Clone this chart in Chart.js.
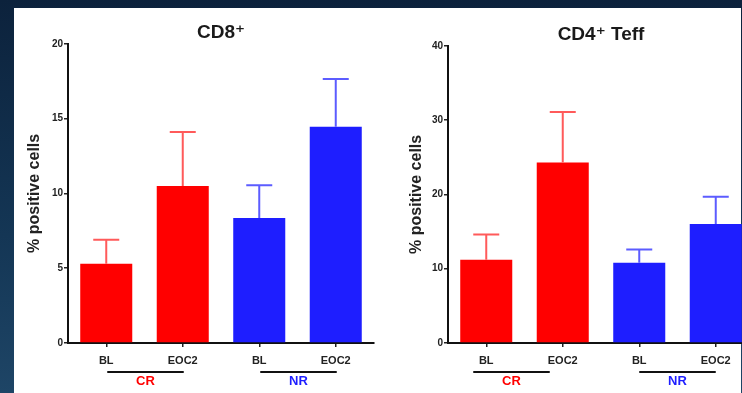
<!DOCTYPE html>
<html>
<head>
<meta charset="utf-8">
<script src="https://cdn.jsdelivr.net/npm/chart.js@4.4.1/dist/chart.umd.min.js"></script>
<style>
  html, body { margin: 0; padding: 0; }
  body {
    width: 742px; height: 393px; overflow: hidden; position: relative;
    background: linear-gradient(180deg, #0c223c 0%, #143655 60%, #1e4566 100%);
  }
  .panel { position: absolute; left: 14px; top: 8px; width: 727px; height: 400px; background: #fff; }
  .chart-box { position: absolute; top: 8px; height: 385px; }
  #boxA { left: 14px; width: 372px; }
  #boxB { left: 380px; width: 390px; }
</style>
</head>
<body>
<div class="panel"></div>
<div class="chart-box" id="boxA"><canvas id="cd8"></canvas></div>
<div class="chart-box" id="boxB"><canvas id="cd4"></canvas></div>
<script>
// ── data ──
const categories = ['BL', 'EOC2', 'BL', 'EOC2'];
const cd8Means = [5.3, 10.5, 8.35, 14.45];
const cd8Errs  = [1.6, 3.6, 2.2, 3.2];
const cd4Means = [11.2, 24.3, 10.8, 16.0];
const cd4Errs  = [3.4, 6.8, 1.8, 3.7];
const groupNames = ['CR', 'NR'];
const groupMembers = [[0, 1], [2, 3]];

const RED = '#ff0000';
const BLUE = '#1e1eff';
const barColors = [RED, RED, BLUE, BLUE];
const errColors = ['#ff5a5a', '#ff5a5a', '#5c5cff', '#5c5cff'];
const groupColors = [RED, BLUE];

const FONT = "'Liberation Sans', Arial, 'DejaVu Sans', sans-serif";

/** Error bars (mean + SEM, upper only) drawn through the scales. */
const errorBars = {
  id: 'errorBars',
  afterDatasetsDraw(chart, args, opts) {
    const { ctx, scales: { x, y } } = chart;
    const means = chart.data.datasets[0].data;
    ctx.save();
    ctx.lineWidth = 2;
    means.forEach((m, i) => {
      const cx = x.getPixelForValue(i);
      const y0 = y.getPixelForValue(m);
      const y1 = y.getPixelForValue(m + opts.errs[i]);
      ctx.strokeStyle = errColors[i];
      ctx.beginPath();
      ctx.moveTo(cx, y0);
      ctx.lineTo(cx, y1);
      ctx.moveTo(cx - 13, y1);
      ctx.lineTo(cx + 13, y1);
      ctx.stroke();
    });
    ctx.restore();
  },
};

/** Group underline + label (CR / NR) beneath the category ticks. */
const groupLabels = {
  id: 'groupLabels',
  afterDraw(chart, args, opts) {
    const { ctx, scales: { x }, chartArea } = chart;
    ctx.save();
    groupMembers.forEach((idx, g) => {
      const a = x.getPixelForValue(idx[0]) + opts.shift[g];
      const b = x.getPixelForValue(idx[idx.length - 1]) + opts.shift[g];
      const ly = chartArea.bottom + 29;
      ctx.strokeStyle = '#111';
      ctx.lineWidth = 2;
      ctx.beginPath();
      ctx.moveTo(a, ly);
      ctx.lineTo(b, ly);
      ctx.stroke();
      ctx.fillStyle = groupColors[g];
      ctx.font = 'bold 13px ' + FONT;
      ctx.textAlign = 'center';
      ctx.textBaseline = 'middle';
      ctx.fillText(groupNames[g], (a + b) / 2, ly + 9);
    });
    ctx.restore();
  },
};

function makeChart(canvasId, title, means, errs, yMax, yStep, pad, shift) {
  return new Chart(document.getElementById(canvasId), {
    type: 'bar',
    data: {
      labels: categories,
      datasets: [{
        data: means,
        backgroundColor: barColors,
        borderWidth: 0,
        barPercentage: 0.68,
        categoryPercentage: 1,
      }],
    },
    plugins: [errorBars, groupLabels],
    options: {
      responsive: true,
      maintainAspectRatio: false,
      animation: false,
      layout: { padding: { left: 0, right: pad.right, top: 0, bottom: 0 }, autoPadding: false },
      scales: {
        x: {
          afterFit: s => { s.height = 50; },
          grid: { display: true, drawOnChartArea: false, offset: false, tickLength: 4, color: '#222', lineWidth: 1.5 },
          border: { display: true, color: '#111', width: 2 },
          ticks: { color: '#222', padding: 7, font: { family: FONT, size: 11, weight: 'bold' } },
        },
        y: {
          min: 0,
          max: yMax,
          afterFit: s => { s.width = pad.left; },
          grid: { display: true, drawOnChartArea: false, tickLength: 4, color: '#222', lineWidth: 1.5 },
          border: { display: true, color: '#111', width: 2 },
          ticks: { stepSize: yStep, color: '#222', padding: 1, font: { family: FONT, size: 10, weight: 'bold' } },
          title: {
            display: true,
            text: '% positive cells',
            color: '#222',
            padding: { top: pad.yTitle, bottom: 0 },
            font: { family: FONT, size: 16, weight: 'bold' },
          },
        },
      },
      plugins: {
        legend: { display: false },
        tooltip: { enabled: false },
        title: {
          display: true,
          fullSize: false,
          text: title,
          color: '#1a1a1a',
          padding: { top: pad.top - 23, bottom: 0 },
          font: { family: FONT, size: 19, weight: 'bold' },
        },
        errorBars: { errs },
        groupLabels: { shift },
      },
    },
  });
}

makeChart('cd8', 'CD8\u207A', cd8Means, cd8Errs, 20, 5, { left: 54, right: 12, top: 36, yTitle: 11 }, [1, 1]);
makeChart('cd4', 'CD4\u207A Teff', cd4Means, cd4Errs, 40, 10, { left: 68, right: 16, top: 38, yTitle: 27 }, [-13, 0]);
</script>
</body>
</html>
